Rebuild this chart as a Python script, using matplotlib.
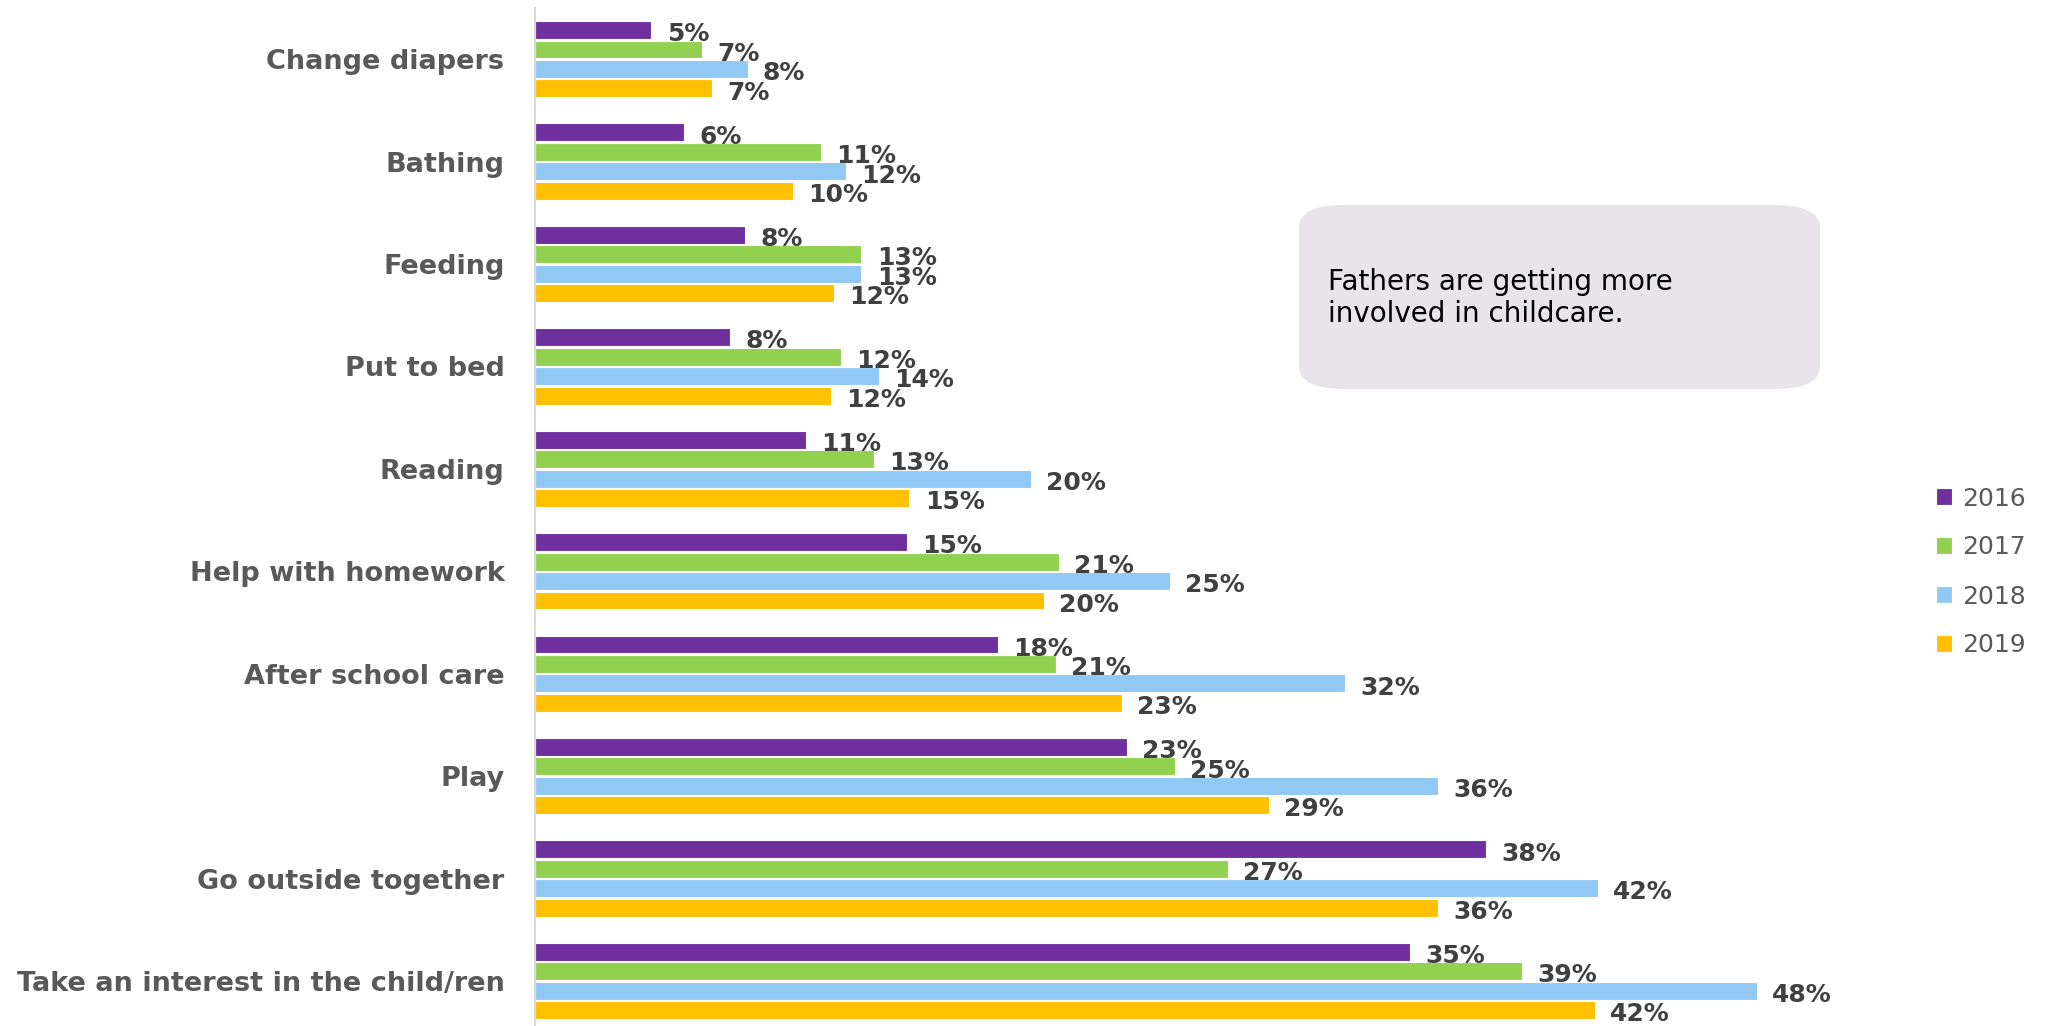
import matplotlib.pyplot as plt
from matplotlib.patches import FancyBboxPatch

categories = ['Change diapers', 'Bathing', 'Feeding', 'Put to bed', 'Reading',
              'Help with homework', 'After school care', 'Play',
              'Go outside together', 'Take an interest in the child/ren']
years = ['2016', '2017', '2018', '2019']
v2016 = [4.6, 5.9, 8.3, 7.7, 10.7, 14.7, 18.3, 23.4, 37.6, 34.6]
v2017 = [6.6, 11.3, 12.9, 12.1, 13.4, 20.7, 20.6, 25.3, 27.4, 39.0]
v2018 = [8.4, 12.3, 12.9, 13.6, 19.6, 25.1, 32.0, 35.7, 42.0, 48.3]
v2019 = [7.0, 10.2, 11.8, 11.7, 14.8, 20.1, 23.2, 29.0, 35.7, 41.9]
colors = ['#7030A0', '#92D050', '#92C8F4', '#FFC000']
note = 'Fathers are getting more\ninvolved in childcare.'

fig = plt.figure(figsize=(20.49, 10.26), dpi=100)
ax = fig.add_axes([535 / 2049, 0, 1265 / 2049, 1018 / 1026])

ypos = list(range(len(categories)))
for i, (yr, vals, c) in enumerate(zip(years, [v2016, v2017, v2018, v2019], colors)):
    off = 0.19 * (i - 1.5)
    ys = [y + off for y in ypos]
    ax.barh(ys, vals, height=0.175, color=c, label=yr, edgecolor='white', linewidth=0.8)
    for y, v in zip(ys, vals):
        ax.annotate('{:.0f}%'.format(v), (v, y), xytext=(11, -3), textcoords='offset points',
                    va='center', ha='left', fontsize=18, fontweight='bold', color='#404040')

ax.set_xlim(0, 50)
ax.set_ylim(9.44, -0.5)
ax.set_yticks(ypos)
ax.set_yticklabels(categories, fontsize=19.5, fontweight='bold', color='#595959')
ax.tick_params(axis='y', length=0, pad=22)
ax.set_xticks([])
for s in ['top', 'right', 'bottom']:
    ax.spines[s].set_visible(False)
ax.spines['left'].set_color('#D9D9D9')
ax.spines['left'].set_linewidth(1.5)

# encadré
box = FancyBboxPatch((1299 / 2049, 1 - 389 / 1026), 521 / 2049, 184 / 1026,
                     boxstyle='round,pad=0,rounding_size=0.022', transform=fig.transFigure,
                     facecolor='#E8E4EA', edgecolor='none')
fig.patches.append(box)
fig.text(1328 / 2049, 1 - 298 / 1026, note, fontsize=20, color='black', va='center',
         ha='left', linespacing=1.2)

leg = fig.legend(loc='center left', bbox_to_anchor=(1936 / 2049, 1 - 572 / 1026), frameon=False,
                 fontsize=18, labelcolor='#595959', handlelength=0.65, handleheight=0.65,
                 handletextpad=0.4, labelspacing=1.0, borderpad=0, borderaxespad=0)

fig.savefig('out.png', dpi=100)
